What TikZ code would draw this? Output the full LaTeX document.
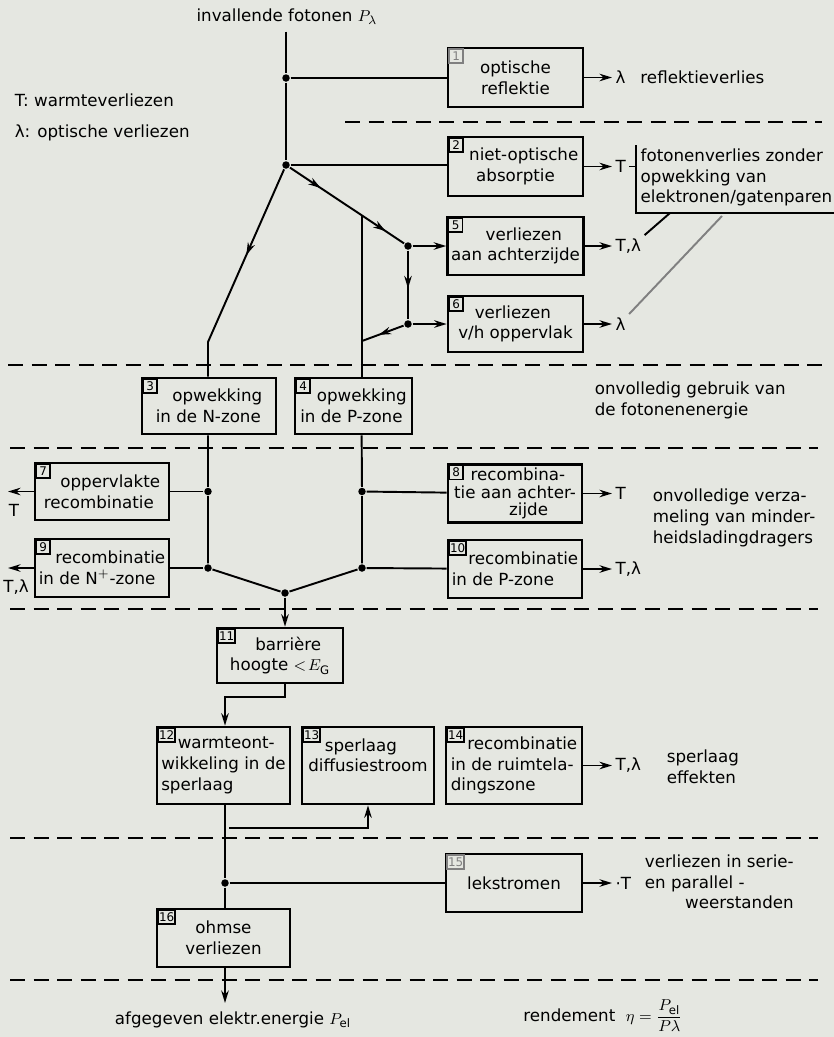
\documentclass[tikz,border=0pt]{standalone}
\usepackage{fontspec}
\setmainfont{DejaVu Sans}
\usetikzlibrary{arrows.meta,positioning,calc,decorations.markings}
\definecolor{paper}{RGB}{229,231,225}
\newcommand{\tagsp}{\hspace*{3.3mm}}

\begin{document}
\begin{tikzpicture}[x=0.2mm, y=-0.2mm, >={Stealth[length=2.5mm,width=1.5mm]},
    line width=1.1pt,
    every node/.style={font=\fontsize{9.5}{11.8}\selectfont},
    stage/.style={draw, line width=1.5pt, inner sep=2pt, align=left},
    tagbox/.style={draw, line width=0.8pt, anchor=north west, inner sep=0.5pt,
        minimum size=2.8mm, xshift=0.35mm, yshift=-0.35mm,
        font=\fontsize{6.8}{7}\selectfont},
    sep/.style={line width=1.3pt, dash pattern=on 3mm off 1.7mm},
    dot/.style={circle, fill, inner sep=0pt, minimum size=1.5mm},
    lossout/.style={anchor=west, inner sep=1.5pt},
    midarrow/.style={postaction={decorate, decoration={markings,
        mark=at position #1 with {\arrow{>}}}}},
    midarrow/.default=0.5]

\useasboundingbox (0,0) rectangle (834,1037);
\fill[paper] (0,0) rectangle (834,1037);

% === Zone separators ===
\draw[sep] (345,122) -- (822,122);
\draw[sep] (8,365) -- (830,365);
\foreach \y in {448,609,838,980}
  \draw[sep] (10,\y) -- (818,\y);

% === Loss stages ===
\node[stage, align=center, minimum width=27mm, minimum height=11.8mm] (b1) at (515.5,77.5) {optische\\reflektie};
\node[stage, align=center, minimum width=27mm, minimum height=11.8mm] (b2) at (515.5,166.5) {\tagsp niet-optische\\absorptie};
\node[stage, align=center, minimum width=27mm, minimum height=11.6mm] (b5) at (515.5,246) {\tagsp verliezen\\aan achterzijde};
\node[stage, minimum width=27mm, minimum height=11.2mm] (b6) at (515.5,324) {\tagsp verliezen\\v/h oppervlak};

\node[stage, minimum width=26.8mm, minimum height=11.2mm] (b3) at (209,406) {\tagsp opwekking\\in de N-zone};
\node[stage, minimum width=23.4mm, minimum height=11.2mm] (b4) at (353.5,406) {\tagsp opwekking\\in de P-zone};

\node[stage, minimum width=26.8mm, minimum height=11.4mm] (b7) at (102,491.5) {\tagsp oppervlakte\\recombinatie};
\node[stage, minimum width=26.8mm, minimum height=11.6mm] (b9) at (102,568) {\tagsp recombinatie\\in de N$^{+}$-zone};
\node[stage, minimum width=26.8mm, minimum height=11.4mm, font=\fontsize{9.5}{10}\selectfont] (b8) at (515,493.5) {\tagsp recombina-\\tie aan achter-\\\hspace*{11mm}zijde};
\node[stage, minimum width=26.8mm, minimum height=11.6mm] (b10) at (515,569) {\tagsp recombinatie\\in de P-zone};

\node[stage, align=center, minimum width=25.2mm, minimum height=11mm] (b11) at (280,655.5) {\tagsp barrière\\hoogte $<\!E_{\mathrm{G}}$};

\node[stage, minimum width=26.6mm, minimum height=15.4mm] (b12) at (223.5,765.5) {\tagsp warmteont-\\wikkeling in de\\sperlaag};
\node[stage, minimum width=26.4mm, minimum height=15.4mm] (b13) at (368,765.5) {\tagsp sperlaag\\diffusiestroom\\~};
\node[stage, minimum width=27.2mm, minimum height=15.4mm] (b14) at (514,765.5) {\tagsp recombinatie\\in de ruimtela-\\dingszone};

\node[stage, align=center, minimum width=27.2mm, minimum height=11.6mm] (b15) at (514,883) {lekstromen};
\node[stage, align=center, minimum width=26.6mm, minimum height=11.6mm] (b16) at (223.5,938) {ohmse\\verliezen};

% number tags
\node[tagbox, draw=gray, text=gray] (t1) at (b1.north west) {1};
\node[tagbox, draw=gray, text=gray] (t15) at (b15.north west) {15};
\foreach \n in {2,...,14,16}
  \node[tagbox] (t\n) at (b\n.north west) {\n};

% === Texts ===
\node (top) at (287,17) {invallende fotonen $P_{\lambda}$};
\node[anchor=west] (keyT) at (8,100) {T: warmteverliezen};
\node[anchor=west] (keyL) at (8,133) {λ: optische verliezen};
\node[anchor=north west, align=left] (zone1) at (588,375) {onvolledig gebruik van\\de fotonenenergie};
\node[anchor=west, align=left] (zone2) at (646,518) {onvolledige verza-\\meling van minder-\\heidsladingdragers};
\node[anchor=west, align=left] (zone3) at (660,767) {sperlaag\\effekten};
\node[anchor=north west, inner sep=0pt] (zone4) at (644,852) {\begin{tabular}{@{}l@{}}verliezen in serie-\\en parallel -\\\multicolumn{1}{@{}r@{}}{weerstanden}\end{tabular}};
\node (pel) at (233,1020) {afgegeven elektr.energie $P_{\mathrm{el}}$};
\node (eta) at (603,1016) {rendement \ $\displaystyle\eta = \frac{P_{\mathrm{el}}}{P\lambda}$};

% === Loss outputs ===
\node[lossout] (o1) at (612,77.5) {λ\hspace{3mm}reflektieverlies};
\node[lossout] (o2) at (612,166.5) {T};
\node[lossout] (o5) at (612,246) {T,λ};
\node[lossout] (o6) at (612,324) {λ};
\node[lossout] (o8) at (612,493.5) {T};
\node[lossout] (o10) at (612,569) {T,λ};
\node[lossout] (o14) at (612,765.5) {T,λ};
\node[lossout] (o15) at (612,883) {·T};
\coordinate (o7) at (8,491.5);
\coordinate (o9) at (8,568);
\node (l7) at (14,510) {T};
\node (l9) at (16,587) {T,λ};

\draw[->] (b1) -- (o1);
\draw[->] (b2) -- (o2);
\draw[->] (b5) -- (o5);
\draw[->] (b6) -- (o6);
\draw[->] (b8) -- (o8);
\draw[->] (b10) -- (o10);
\draw[->] (b14) -- (o14);
\draw[->] (b15) -- (o15);
\draw[->] (b7) -- (o7);
\draw[->] (b9) -- (o9);

% bracket note
\coordinate (bt) at (636,145);
\coordinate (bc) at (636,213);
\coordinate (be) at (834,213);
\coordinate (s1) at (670,213);
\coordinate (s2) at (722,216);
\draw (o2.east) -- (o2.east -| bt);
\draw (bt) -- (bc) -- (be);
\node[anchor=north west, align=left, inner sep=1pt] (note) at (638,146) {fotonenverlies zonder\\opwekking van\\elektronen/gatenparen};
\draw (s1) -- (o5.north east);
\draw[gray] (s2) -- (o6.north east);

% === Junctions ===
\node[dot] (j0) at (286,78) {};
\node[dot] (j1) at (286,165) {};
\node[dot] (j2) at (408,246) {};
\node[dot] (j3) at (408,324) {};
\node[dot] (j7) at (208,491.5) {};
\node[dot] (j9) at (208,568) {};
\node[dot] (j8) at (362,491.5) {};
\node[dot] (j10) at (362,568) {};
\node[dot] (jm) at (285,593) {};
\node[dot] (j15) at (225,883) {};
\coordinate (p4) at ($(j1)!0.62!(j2)$);
\coordinate (k3) at (208,342);
\coordinate (m4) at (362,341);
\coordinate (k11) at (285,697);
\coordinate (k12) at (225,828);

% === Photon paths ===
\draw (top.south -| j0) -- (j0) -- (j1);
\draw (j0) -- (j0 -| b1.west);
\draw (j1) -- (j1 -| b2.west);
\draw[midarrow=0.27, midarrow=0.84] (j1) -- (j2);
\draw[->] (j2) -- (j2 -| b5.west);
\draw[midarrow=0.55] (j2) -- (j3);
\draw[->] (j3) -- (j3 -| b6.west);
\draw[midarrow=0.6] (j3) -- (m4);
\draw (p4) -- (p4 |- b4.north);
\draw[midarrow=0.42] (j1) -- (k3) -- (k3 |- b3.north);

% === Carrier paths ===
\draw (k3 |- b3.south) -- (j7) -- (j9) -- (jm);
\draw (p4 |- b4.south) -- (j8) -- (j10) -- (jm);
\draw (j7) -- (b7);
\draw (j9) -- (b9);
\draw (j8) -- (b8);
\draw (j10) -- (b10);
\draw[->] (jm) -- (jm |- b11.north);
\draw[->] (jm |- b11.south) -- (k11) -| (b12.north -| k12);
\draw (k12 |- b12.south) -- (k12) -- (j15) -- (j15 |- b16.north);
\draw[->] ($(k12)+(4,0)$) -| (b13.south);
\draw (j15) -- (b15);
\draw[->] (b16.south -| j15) -- (225,1003);

\end{tikzpicture}
\end{document}
